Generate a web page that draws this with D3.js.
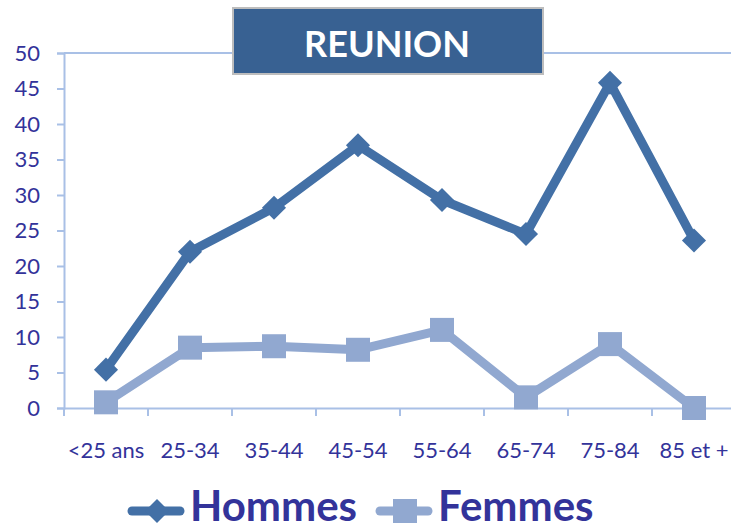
<!DOCTYPE html>
<html>
<head>
<meta charset="utf-8">
<script src="https://cdn.jsdelivr.net/npm/d3@7"></script>
<style>
  body { margin: 0; background: #fff; }
  svg text { font-family: Lato, "Open Sans", sans-serif; }
</style>
</head>
<body>
<div id="chart"></div>
<script>
// age groups and rates
const categories = ["<25 ans", "25-34", "35-44", "45-54", "55-64", "65-74", "75-84", "85 et +"];
const hommes = [5.4, 22, 28.2, 37, 29.3, 24.5, 45.8, 23.6];
const femmes = [0.8, 8.5, 8.7, 8.2, 11, 1.5, 9, 0];
const yTicks = [0, 5, 10, 15, 20, 25, 30, 35, 40, 45, 50];

const width = 731, height = 531;
const axisCol = "#a9c0e6";
const textCol = "#33339a";
const colH = "#4370a6";
const colF = "#91a8d0";

let svg = d3.select("#chart").append("svg")
    .attr("width", width)
    .attr("height", height);

let x = d3.scaleBand().domain(categories).range([64, 736]);
let y = d3.scaleLinear().domain([0, 50]).range([408, 53]);

// top border line at 50
svg.append("line")
    .attr("x1", 64).attr("x2", width)
    .attr("y1", y(50)).attr("y2", y(50))
    .attr("stroke", axisCol).attr("stroke-width", 2);

// y axis
let yAxis = svg.append("g")
    .attr("transform", "translate(64,0)")
    .call(d3.axisLeft(y).tickValues(yTicks).tickSize(7).tickPadding(17));
yAxis.select(".domain").attr("stroke", axisCol).attr("stroke-width", 2);
yAxis.selectAll(".tick line").attr("stroke", axisCol).attr("stroke-width", 2);
yAxis.selectAll(".tick text")
    .attr("fill", textCol)
    .style("font-size", "22px");

// x axis
let xAxis = svg.append("g")
    .attr("transform", "translate(0,408)")
    .call(d3.axisBottom(x).tickSize(0).tickPadding(34));
xAxis.select(".domain").attr("stroke", axisCol).attr("stroke-width", 2);
xAxis.selectAll(".tick text")
    .attr("fill", textCol)
    .style("font-size", "22px");
// tick marks between categories
xAxis.selectAll(".sep")
    .data(categories)
    .enter().append("line")
    .attr("x1", d => x(d)).attr("x2", d => x(d))
    .attr("y1", 0).attr("y2", 8)
    .attr("stroke", axisCol).attr("stroke-width", 2);

let line = d3.line()
    .x((d, i) => x(categories[i]) + x.bandwidth() / 2)
    .y(d => y(d));

// Femmes
svg.append("path")
    .datum(femmes)
    .attr("d", line)
    .attr("fill", "none")
    .attr("stroke", colF)
    .attr("stroke-width", 9)
    .attr("stroke-linejoin", "round");
svg.selectAll(".sq")
    .data(femmes)
    .enter().append("rect")
    .attr("x", (d, i) => x(categories[i]) + x.bandwidth() / 2 - 12)
    .attr("y", d => y(d) - 12)
    .attr("width", 24).attr("height", 24)
    .attr("fill", colF);

// Hommes
svg.append("path")
    .datum(hommes)
    .attr("d", line)
    .attr("fill", "none")
    .attr("stroke", colH)
    .attr("stroke-width", 9)
    .attr("stroke-linejoin", "round");
svg.selectAll(".dia")
    .data(hommes)
    .enter().append("path")
    .attr("d", d3.symbol().type(d3.symbolSquare).size(290))
    .attr("transform", (d, i) => "translate(" + (x(categories[i]) + x.bandwidth() / 2) + "," + y(d) + ") rotate(45)")
    .attr("fill", colH);

// title box
svg.append("rect")
    .attr("x", 233).attr("y", 8)
    .attr("width", 310).attr("height", 66)
    .attr("fill", "#386192")
    .attr("stroke", "#bdbdbd").attr("stroke-width", 2);
svg.append("text")
    .attr("x", 387).attr("y", 57)
    .attr("text-anchor", "middle")
    .attr("fill", "#fff")
    .style("font-size", "36px")
    .style("font-weight", "bold")
    .text("REUNION");

// legend
let legend = [
    { name: "Hommes", col: colH, x: 128, shape: "diamond" },
    { name: "Femmes", col: colF, x: 376, shape: "square" }
];
let lg = svg.selectAll(".lg").data(legend).enter().append("g")
    .attr("transform", d => "translate(" + d.x + ",511)");
lg.append("line")
    .attr("x1", 4).attr("x2", 52)
    .attr("stroke", d => d.col)
    .attr("stroke-width", 9)
    .attr("stroke-linecap", "round");
lg.append("path")
    .attr("d", d3.symbol().type(d3.symbolSquare).size(d => d.shape == "square" ? 576 : 290))
    .attr("transform", d => d.shape == "square" ? "translate(29,0)" : "translate(29,0) rotate(45)")
    .attr("fill", d => d.col);
lg.append("text")
    .attr("x", 62).attr("y", 10)
    .attr("fill", textCol)
    .style("font-size", "42px")
    .style("font-weight", "bold")
    .text(d => d.name);
</script>
</body>
</html>
